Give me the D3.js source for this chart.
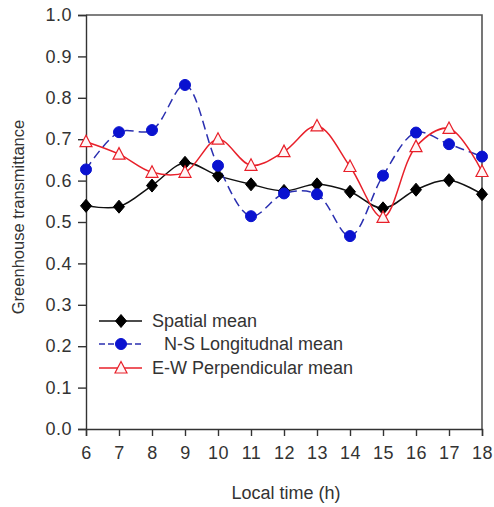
<!DOCTYPE html>
<html>
<head>
<meta charset="utf-8">
<script src="https://cdn.jsdelivr.net/npm/d3@7"></script>
<style>
  body { margin: 0; background: #fff; }
  text { font-family: "Liberation Sans", Arial, sans-serif; fill: #333; }
</style>
</head>
<body>
<div id="chart"></div>
<script>
// hours on the x axis
let hours = [6, 7, 8, 9, 10, 11, 12, 13, 14, 15, 16, 17, 18];
let spatialMean = [0.539, 0.537, 0.588, 0.643, 0.612, 0.591, 0.575, 0.591, 0.573, 0.533, 0.578, 0.601, 0.567];
let nsMean = [0.627, 0.717, 0.722, 0.831, 0.636, 0.514, 0.569, 0.567, 0.466, 0.612, 0.716, 0.688, 0.658];
let ewMean = [0.694, 0.664, 0.620, 0.620, 0.700, 0.637, 0.670, 0.732, 0.634, 0.511, 0.682, 0.726, 0.622];
let yTicks = [0, 0.1, 0.2, 0.3, 0.4, 0.5, 0.6, 0.7, 0.8, 0.9, 1.0];
let seriesNames = ['Spatial mean', 'N-S Longitudnal mean', 'E-W Perpendicular mean'];

(function() {
	let width = 494, height = 507;
	let left = 86, right = 482, top = 15, bottom = 429;

	let svg = d3.select('#chart')
		.append('svg')
		.attr('width', width)
		.attr('height', height);

	let x = d3.scaleLinear().domain([6, 18]).range([left, right]);
	let y = d3.scaleLinear().domain([0, 1]).range([bottom, top]);

	// frame
	svg.append('path')
		.attr('d', `M${left},${top}H${right}V${bottom}`)
		.attr('fill', 'none')
		.attr('stroke', '#555')
		.attr('stroke-width', 1.6);

	let yAxis = svg.append('g')
		.attr('transform', `translate(${left},0)`)
		.call(d3.axisLeft(y).tickValues(yTicks).tickFormat(d3.format('.1f')).tickSize(8).tickPadding(6));
	let xAxis = svg.append('g')
		.attr('transform', `translate(0,${bottom})`)
		.call(d3.axisBottom(x).tickValues(hours).tickFormat(d3.format('d')).tickSize(7).tickPadding(10));

	[yAxis, xAxis].forEach(a => {
		a.selectAll('path, line').attr('stroke', '#333').attr('stroke-width', 1.4);
		a.selectAll('text')
			.style('font-family', '"Liberation Sans", Arial, sans-serif')
			.style('font-size', '18px')
			.style('letter-spacing', '0.5px')
			.attr('fill', '#333');
	});

	svg.append('text')
		.attr('x', 286)
		.attr('y', 499)
		.attr('text-anchor', 'middle')
		.style('font-size', '18px')
		.text('Local time (h)');

	svg.append('text')
		.attr('transform', 'translate(24,217) rotate(-90)')
		.attr('text-anchor', 'middle')
		.style('font-size', '16.5px')
		.text('Greenhouse transmittance');

	let line = d3.line()
		.x((d, i) => x(hours[i]))
		.y(d => y(d))
		.curve(d3.curveCatmullRom.alpha(0.5));

	let series = [
		{ values: spatialMean, stroke: '#111', dash: null, marker: 'diamond', fill: '#000', mstroke: '#000' },
		{ values: nsMean, stroke: '#2a2fb0', dash: '9,5', marker: 'circle', fill: '#0a12d0', mstroke: '#0a12d0' },
		{ values: ewMean, stroke: '#e8202a', dash: null, marker: 'triangle', fill: '#fff6f6', mstroke: '#e8202a' }
	];

	function drawMarker(g, s, cx, cy) {
		if (s.marker === 'circle') {
			g.append('circle')
				.attr('cx', cx).attr('cy', cy).attr('r', 5.5)
				.attr('fill', s.fill).attr('stroke', s.mstroke);
		} else if (s.marker === 'diamond') {
			g.append('path')
				.attr('transform', `translate(${cx},${cy})`)
				.attr('d', 'M0,-6.5L5.5,0L0,6.5L-5.5,0Z')
				.attr('fill', s.fill)
				.attr('stroke', s.mstroke);
		} else {
			g.append('path')
				.attr('transform', `translate(${cx},${cy})`)
				.attr('d', 'M0,-6.5L6,5L-6,5Z')
				.attr('fill', s.fill)
				.attr('stroke', s.mstroke)
				.attr('stroke-width', 1.2);
		}
	}

	// lines first, then markers
	series.forEach(s => {
		svg.append('path')
			.datum(s.values)
			.attr('d', line)
			.attr('fill', 'none')
			.attr('stroke', s.stroke)
			.attr('stroke-width', 1.5)
			.attr('stroke-dasharray', s.dash);
	});
	series.forEach(s => {
		let g = svg.append('g');
		s.values.forEach((v, i) => drawMarker(g, s, x(hours[i]), y(v)));
	});

	// legend
	let legendY = [321, 344, 368];
	let legendX = [152, 164, 152];
	series.forEach((s, i) => {
		let g = svg.append('g');
		g.append('line')
			.attr('x1', 99).attr('x2', 142)
			.attr('y1', legendY[i]).attr('y2', legendY[i])
			.attr('stroke', s.stroke)
			.attr('stroke-width', 1.5)
			.attr('stroke-dasharray', s.dash ? '6,3' : null);
		drawMarker(g, s, 121, legendY[i]);
		g.append('text')
			.attr('x', legendX[i])
			.attr('y', legendY[i] + 6)
			.style('font-size', '18px')
			.text(seriesNames[i]);
	});
})();
</script>
</body>
</html>
